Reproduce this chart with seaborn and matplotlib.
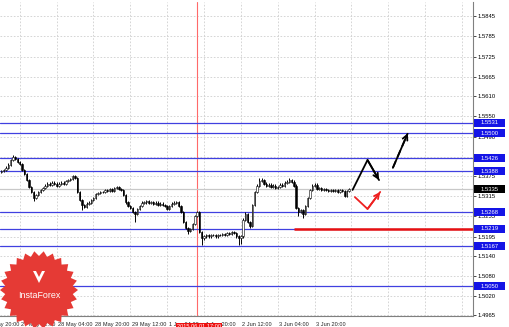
import numpy as np
import pandas as pd
import matplotlib
matplotlib.use("Agg")
import matplotlib.pyplot as plt
import seaborn as sns
from matplotlib.patches import Polygon, Rectangle
from matplotlib.transforms import blended_transform_factory

# ---------------- data ----------------
first_open = 1.5386
close = [1.5389, 1.5392, 1.5398, 1.5407, 1.5421, 1.5430, 1.5424, 1.5415, 1.5409, 1.5392,
         1.5380, 1.5362, 1.5342, 1.5327, 1.5309, 1.5318, 1.5327, 1.5333, 1.5339, 1.5345,
         1.5351, 1.5348, 1.5354, 1.5351, 1.5345, 1.5351, 1.5354, 1.5351, 1.5359, 1.5362,
         1.5365, 1.5374, 1.5368, 1.5327, 1.5303, 1.5289, 1.5283, 1.5292, 1.5295, 1.5303,
         1.5309, 1.5321, 1.5324, 1.5327, 1.5327, 1.5333, 1.5330, 1.5336, 1.5330, 1.5339,
         1.5342, 1.5336, 1.5333, 1.5318, 1.5297, 1.5286, 1.5280, 1.5268, 1.5262, 1.5277,
         1.5286, 1.5295, 1.5297, 1.5300, 1.5295, 1.5297, 1.5292, 1.5295, 1.5289, 1.5292,
         1.5289, 1.5286, 1.5277, 1.5286, 1.5292, 1.5295, 1.5297, 1.5286, 1.5268, 1.5239,
         1.5221, 1.5212, 1.5218, 1.5233, 1.5256, 1.5268, 1.5209, 1.5191, 1.5197, 1.5200,
         1.5197, 1.5200, 1.5200, 1.5197, 1.5200, 1.5200, 1.5203, 1.5200, 1.5206, 1.5203,
         1.5209, 1.5206, 1.5197, 1.5191, 1.5197, 1.5245, 1.5262, 1.5239, 1.5227, 1.5289,
         1.5327, 1.5345, 1.5359, 1.5362, 1.5351, 1.5345, 1.5348, 1.5342, 1.5345, 1.5339,
         1.5342, 1.5348, 1.5345, 1.5354, 1.5357, 1.5362, 1.5357, 1.5345, 1.5280, 1.5268,
         1.5274, 1.5262, 1.5286, 1.5309, 1.5333, 1.5345, 1.5348, 1.5336, 1.5339, 1.5333,
         1.5336, 1.5333, 1.5330, 1.5333, 1.5330, 1.5333, 1.5327, 1.5333, 1.5330, 1.5315,
         1.5330, 1.5335]
spike_high = {5: 1.5436, 85: 1.5271, 106: 1.5268, 112: 1.5368, 113: 1.5368, 125: 1.5368, 135: 1.5351}
spike_low = {14: 1.5300, 35: 1.5274, 58: 1.5239, 81: 1.5203, 87: 1.5171, 103: 1.5171,
             104: 1.5174, 108: 1.5221, 129: 1.5256, 131: 1.5250}

blue_levels = [1.5531, 1.5500, 1.5426, 1.5388, 1.5268, 1.5219, 1.5167, 1.5050]
red_level = 1.5219
red_level_from = 127
bid_price = 1.5335

ytick_vals = [1.5845, 1.5785, 1.5725, 1.5665, 1.5610, 1.5550, 1.5490, 1.5430, 1.5375,
              1.5315, 1.5255, 1.5195, 1.5140, 1.5080, 1.5020, 1.4965]
ytick_hidden = [1.5430]
xtick_bars = [-8, 8, 24, 40, 56, 72, 88, 104, 120, 136]
xtick_labels = ["26 May 20:00", "27 May 12:00", "28 May 04:00", "28 May 20:00", "29 May 12:00",
                "1 Jun 04:00", "1 Jun 20:00", "2 Jun 12:00", "3 Jun 04:00", "3 Jun 20:00"]
vgrid_bars = [8, 24, 40, 56, 72, 88, 104, 120, 136, 152, 168, 184, 200]
cursor_bar = 85
cursor_label = "2015.06.01 17:00"

# forecast arrows (bar, price)
black_path = [(152.5, 1.5333), (159.0, 1.5421), (164.0, 1.5362)]
dash_path = [(170.0, 1.5398), (176.5, 1.5500)]
red_path = [(153.5, 1.5312), (159.0, 1.5277), (164.5, 1.5327)]

XLIM = (-0.6, 204.8)
YLIM = (1.4962, 1.5886)

# ---------------- figure ----------------
sns.set_theme(style="white")
plt.rcParams['font.family'] = ['Liberation Sans', 'DejaVu Sans']

W, H = 510, 327
fig = plt.figure(figsize=(W / 100, H / 100), dpi=100)
fig.patch.set_facecolor("white")
ax = fig.add_axes([0, 11 / H, 473 / W, 314 / H])
ax.set_facecolor("white")

n = len(close)
df = pd.DataFrame({"bar": np.arange(n), "close": close})
df["open"] = [first_open] + close[:-1]
WICK = 0.0004
df["high"] = df[["open", "close"]].max(axis=1) + WICK
df["low"] = df[["open", "close"]].min(axis=1) - WICK
for k, v in spike_high.items():
    df.loc[k, "high"] = max(df.loc[k, "high"], v)
for k, v in spike_low.items():
    df.loc[k, "low"] = min(df.loc[k, "low"], v)

# grid
for yv in ytick_vals:
    ax.axhline(yv, color="#cfcfcf", lw=0.6, ls=(0, (2, 2)), zorder=0)
for xb in vgrid_bars:
    ax.axvline(xb, color="#cfcfcf", lw=0.6, ls=(0, (2, 2)), zorder=0)

# cursor line
ax.axvline(cursor_bar, color="#ff6a6a", lw=0.8, zorder=1)

# levels
for lv in blue_levels:
    ax.axhline(lv, color="#4040e0", lw=0.9, zorder=2)
sns.lineplot(x=[-1, 210], y=[bid_price, bid_price], ax=ax, color="#c8c8c8", lw=0.9, zorder=1)
ax.plot([red_level_from, 210], [red_level, red_level], color="#e81010", lw=1.8, zorder=3,
        solid_capstyle="butt")

# candles
ax.vlines(df["bar"], df["low"], df["high"], color="black", lw=0.7, zorder=4)
bull = df[df["close"] >= df["open"]]
bear = df[df["close"] < df["open"]]
ax.bar(bull["bar"], bull["close"] - bull["open"], bottom=bull["open"], width=0.6,
       color="white", edgecolor="black", linewidth=0.4, zorder=5)
ax.bar(bear["bar"], bear["close"] - bear["open"], bottom=bear["open"], width=0.6,
       color="black", edgecolor="black", linewidth=0.4, zorder=5)

# arrows
def arrow_path(path, color, ls="-"):
    xs, ys = zip(*path)
    ax.plot(xs, ys, color=color, lw=1.3, ls=ls, zorder=6)
    ax.annotate("", xy=path[-1], xytext=path[-2],
                arrowprops=dict(arrowstyle="->", color=color, lw=1.3, mutation_scale=9,
                                shrinkA=0, shrinkB=0), zorder=7)

arrow_path(black_path, "black")
arrow_path(dash_path, "black", ls=(0, (4, 2.5)))
arrow_path(red_path, "#ee2020")

# axes styling
for s in ["top", "left"]:
    ax.spines[s].set_visible(False)
ax.spines["right"].set_color("#808080")
ax.spines["bottom"].set_color("#808080")
ax.spines["right"].set_linewidth(0.8)
ax.spines["bottom"].set_linewidth(0.8)
ax.yaxis.tick_right()
ax.set_yticks(ytick_vals)
ax.set_yticklabels(["" if v in ytick_hidden else f"{v:.4f}" for v in ytick_vals], fontsize=4.2)
ax.tick_params(axis="y", length=2, width=0.5, pad=1.5, colors="black")
ax.set_xticks(xtick_bars)
ax.set_xticklabels([""] * len(xtick_bars))
ax.tick_params(axis="x", length=2.5, width=0.5, colors="black")

# limits (set after ticks so nothing rescales them)
ax.set_xlim(*XLIM)
ax.set_ylim(*YLIM)

trans_x = blended_transform_factory(ax.transData, ax.transAxes)
for xb, lab in zip(xtick_bars, xtick_labels):
    ax.text(xb + 0.7, -0.018, lab, transform=trans_x, fontsize=4.1, ha="left", va="top",
            clip_on=False)

# right price boxes
trans_y = blended_transform_factory(ax.transAxes, ax.transData)
box_h = 0.0024
def price_box(v, fc):
    ax.add_patch(Rectangle((1.002, v - box_h / 2), 0.066, box_h, transform=trans_y,
                           facecolor=fc, edgecolor="none", clip_on=False, zorder=10))
    ax.text(1.035, v, f"{v:.4f}", transform=trans_y, color="white", fontsize=4.2,
            ha="center", va="center", clip_on=False, zorder=11)
for lv in blue_levels:
    price_box(lv, "#1414e6")
price_box(bid_price, "#000000")

# cursor time box
ax.text(cursor_bar - 8.8, -0.024, cursor_label, transform=trans_x, color="white", fontsize=4.1,
        ha="left", va="top", clip_on=False, zorder=12,
        bbox=dict(boxstyle="square,pad=0.15", fc="#ee1010", ec="none"))

# logo overlay
lax = fig.add_axes([0, 0, 1, 1], zorder=20)
lax.set_xlim(0, W)
lax.set_ylim(H, 0)
lax.axis("off")
cx, cy, ro, ri, nsp = 39, 290, 39, 34, 26
ang = np.linspace(0, 2 * np.pi, 2 * nsp, endpoint=False)
rad = np.where(np.arange(2 * nsp) % 2 == 0, ro, ri)
lax.add_patch(Polygon(np.c_[cx + rad * np.cos(ang), cy + rad * np.sin(ang)],
                      closed=True, fc="#e53a35", ec="none"))
lax.add_patch(Polygon([(cx - 6, 271), (cx, 283), (cx + 6, 271), (cx + 3, 271), (cx, 277), (cx - 3, 271)],
                      closed=True, fc="white", ec="none"))
lax.text(cx, 296, "InstaForex", color="white", fontsize=6.4, ha="center", va="center")

fig.savefig("out.png", dpi=100, facecolor="white")
